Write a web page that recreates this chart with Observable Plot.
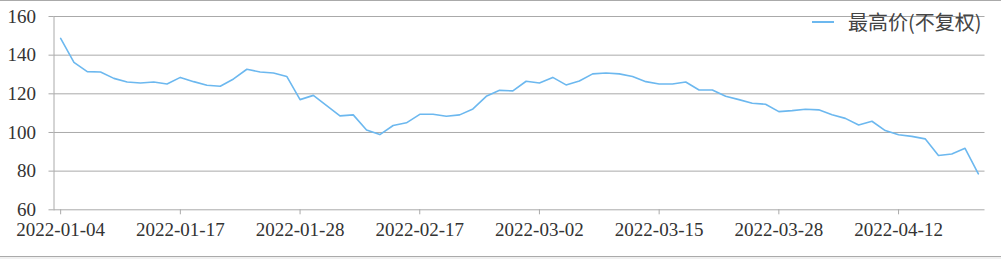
<!DOCTYPE html>
<html><head><meta charset="utf-8">
<script src="https://cdn.jsdelivr.net/npm/d3@7"></script>
<script src="https://cdn.jsdelivr.net/npm/@observablehq/plot@0.6"></script>
<style>
html,body{margin:0;padding:0;background:#f0f0f0;}
#wrap{position:relative;width:1001px;height:255px;background:#fff;border-top:1px solid #aaa;border-bottom:1px solid #aaa;overflow:hidden;}
#chart svg{display:block;}
#legend{position:absolute;left:812px;top:9px;height:24px;display:flex;align-items:center;font-family:"Noto Sans CJK SC","Noto Sans",sans-serif;font-size:20px;line-height:24px;color:#444;white-space:nowrap;}
#legend .sw{width:22px;height:2px;margin-right:14px;}
</style></head>
<body>
<div id="wrap"><div id="chart"></div><div id="legend"><span class="sw"></span><span class="lt"></span></div></div>
<script>
const seriesName = "最高价(不复权)";
const dates = [
  "2022-01-04","2022-01-05","2022-01-06","2022-01-07","2022-01-10","2022-01-11","2022-01-12","2022-01-13","2022-01-14","2022-01-17",
  "2022-01-18","2022-01-19","2022-01-20","2022-01-21","2022-01-24","2022-01-25","2022-01-26","2022-01-27","2022-01-28","2022-02-07",
  "2022-02-08","2022-02-09","2022-02-10","2022-02-11","2022-02-14","2022-02-15","2022-02-16","2022-02-17","2022-02-18","2022-02-21",
  "2022-02-22","2022-02-23","2022-02-24","2022-02-25","2022-02-28","2022-03-01","2022-03-02","2022-03-03","2022-03-04","2022-03-07",
  "2022-03-08","2022-03-09","2022-03-10","2022-03-11","2022-03-14","2022-03-15","2022-03-16","2022-03-17","2022-03-18","2022-03-21",
  "2022-03-22","2022-03-23","2022-03-24","2022-03-25","2022-03-28","2022-03-29","2022-03-30","2022-03-31","2022-04-01","2022-04-06",
  "2022-04-07","2022-04-08","2022-04-11","2022-04-12","2022-04-13","2022-04-14","2022-04-15","2022-04-18","2022-04-19","2022-04-20"
];
const highs = [
  148.7,136.3,131.5,131.3,128.0,126.1,125.6,126.1,125.1,128.5,
  126.3,124.4,123.9,127.7,132.7,131.3,130.8,129.0,117.0,119.2,
  113.9,108.6,109.1,101.3,98.9,103.6,105.0,109.4,109.4,108.4,
  109.1,112.2,118.7,121.8,121.5,126.5,125.6,128.5,124.6,126.6,
  130.3,130.8,130.3,129.0,126.3,125.1,125.1,126.1,122.0,122.0,
  118.7,117.0,115.1,114.6,110.8,111.3,112.0,111.7,109.2,107.3,
  103.9,105.8,101.0,98.8,98.0,96.7,88.1,88.9,91.8,78.6
];
const yTicks = [60,80,100,120,140,160];
const xTicks = ["2022-01-04","2022-01-17","2022-01-28","2022-02-17","2022-03-02","2022-03-15","2022-03-28","2022-04-12"];
const lineColor = "#6cb8ef";
const gridColor = "#aaa";

const data = dates.map((d,i)=>({date:d, high:highs[i]}));

const chart = Plot.plot({
  width:1001, height:255,
  marginTop:15, marginBottom:46.7, marginLeft:53.5, marginRight:16.5,
  style:{fontFamily:"'Liberation Serif', 'DejaVu Serif', serif", fontSize:"19px", color:"#333", background:"transparent", overflow:"visible"},
  x:{type:"point", domain:dates, padding:0.5, round:false},
  y:{domain:[60,160]},
  marks:[
    Plot.gridY(yTicks,{stroke:gridColor, strokeOpacity:1}),
    Plot.frame({anchor:"left", stroke:gridColor}),
    Plot.axisY(yTicks,{tickSize:5, tickPadding:13, stroke:gridColor, fill:"#333", label:null}),
    Plot.axisX(xTicks,{tickSize:5, tickPadding:8, stroke:gridColor, fill:"#333", label:null}),
    Plot.lineY(data,{x:"date", y:"high", stroke:lineColor, strokeWidth:1.6})
  ]
});
document.getElementById("chart").appendChild(chart);
document.querySelector("#legend .sw").style.background = lineColor;
document.querySelector("#legend .lt").textContent = seriesName;
</script>
</body></html>
